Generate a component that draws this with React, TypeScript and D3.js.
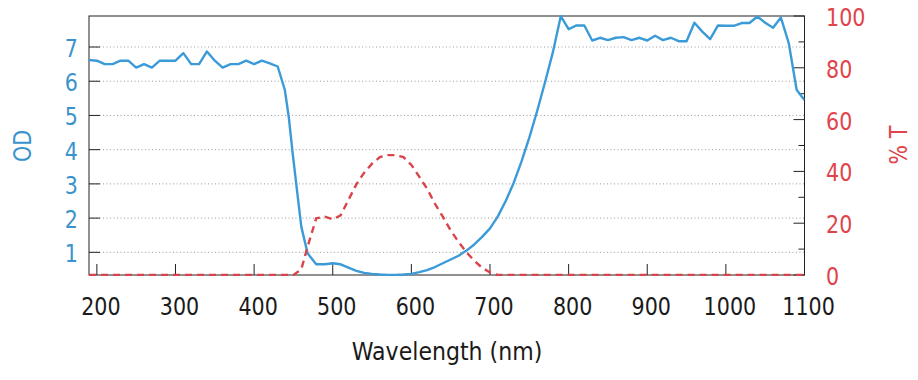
import React from "react";
import * as d3 from "d3";

const odWavelengths = [190, 200, 210, 220, 230, 240, 250, 260, 270, 280, 290, 300, 310, 320, 330, 340, 350, 360, 370, 380, 390, 400, 410, 420, 430, 439, 444, 449, 455, 460, 468, 479, 490, 500, 510, 520, 530, 540, 550, 560, 570, 580, 590, 600, 610, 620, 630, 640, 650, 660, 670, 680, 690, 700, 710, 720, 730, 740, 750, 760, 770, 780, 790, 800, 810, 820, 830, 840, 850, 860, 870, 880, 890, 900, 910, 920, 930, 940, 950, 960, 970, 980, 990, 1000, 1010, 1020, 1030, 1040, 1050, 1060, 1070, 1080, 1085, 1090, 1095, 1100];
const odValues = [6.62, 6.6, 6.5, 6.5, 6.6, 6.6, 6.4, 6.5, 6.4, 6.6, 6.6, 6.6, 6.82, 6.5, 6.5, 6.87, 6.6, 6.4, 6.5, 6.5, 6.6, 6.5, 6.6, 6.52, 6.43, 5.75, 4.97, 3.9, 2.72, 1.75, 0.97, 0.65, 0.65, 0.68, 0.65, 0.55, 0.46, 0.4, 0.37, 0.35, 0.34, 0.34, 0.35, 0.37, 0.42, 0.48, 0.57, 0.68, 0.79, 0.9, 1.05, 1.23, 1.45, 1.7, 2.05, 2.5, 3.02, 3.65, 4.35, 5.13, 5.97, 6.85, 7.9, 7.52, 7.63, 7.63, 7.19, 7.27, 7.2, 7.27, 7.29, 7.2, 7.27, 7.19, 7.33, 7.2, 7.27, 7.17, 7.17, 7.71, 7.45, 7.23, 7.63, 7.62, 7.62, 7.7, 7.7, 7.89, 7.71, 7.56, 7.86, 7.11, 6.43, 5.75, 5.6, 5.45];

const tWavelengths = [190, 300, 400, 450, 460, 468, 479, 490, 500, 510, 520, 530, 540, 550, 560, 570, 580, 590, 600, 610, 620, 630, 640, 650, 660, 670, 680, 690, 700, 710, 800, 900, 1000, 1100];
const tValues = [0, 0, 0, 0, 2.2, 10.9, 21.9, 22.5, 21.5, 23, 29, 35, 39.5, 43, 45.5, 46.3, 46.3, 45.5, 42.5, 38, 33.3, 27.5, 22.5, 17.2, 12.8, 8.8, 5.5, 2.8, 1, 0, 0, 0, 0, 0];

const xTicks = [200, 300, 400, 500, 600, 700, 800, 900, 1000, 1100];
const odTicks = [1, 2, 3, 4, 5, 6, 7];
const tTicks = [0, 20, 40, 60, 80, 100];
const tMinorTicks = [10, 30, 50, 70, 90];

const BLUE = "#3b9ad8";
const BLUE_TEXT = "#3a93cc";
const RED = "#d9434a";
const RED_TEXT = "#e0444a";
const FONT = "'DejaVu Sans', Verdana, sans-serif";
const SX = 0.86;

export default function App() {
  const left = 89, right = 804.5, top = 16, bottom = 275;
  const x = d3.scaleLinear().domain([190, 1100]).range([left, right]);
  const yOD = d3.scaleLinear().domain([0.337, 7.906]).range([bottom, top]);
  const yT = d3.scaleLinear().domain([0, 100]).range([bottom, top]);

  const odLine = d3
    .line<number>()
    .x((_, i) => x(odWavelengths[i]))
    .y((d) => yOD(d))
    .curve(d3.curveLinear)(odValues) as string;

  const tLine = d3
    .line<number>()
    .x((_, i) => x(tWavelengths[i]))
    .y((d) => yT(d))
    .curve(d3.curveLinear)(tValues) as string;

  const txt = (
    key: string,
    px: number,
    py: number,
    s: string,
    anchor: string,
    color: string,
    size: number,
    rotate = 0,
    sx = SX
  ) => (
    <text
      key={key}
      transform={`translate(${px},${py}) rotate(${rotate}) scale(${sx},1)`}
      textAnchor={anchor as any}
      fill={color}
      fontSize={size}
      fontFamily={FONT}
    >
      {s}
    </text>
  );

  return (
    <svg
      width={918}
      height={380}
      style={{ position: "absolute", left: 0, top: 0, background: "#fff" }}
    >
      <defs>
        <clipPath id="plot">
          <rect x={left} y={top - 1} width={right - left} height={bottom - top + 2} />
        </clipPath>
      </defs>
      <rect x={0} y={0} width={918} height={380} fill="#fff" />
      {odTicks.map((t) => (
        <line
          key={"g" + t}
          x1={left}
          x2={right}
          y1={yOD(t)}
          y2={yOD(t)}
          stroke="#9a9a9a"
          strokeWidth={1}
          strokeDasharray="1,2.5"
        />
      ))}
      {odTicks.map((t) => (
        <line key={"lt" + t} x1={left} x2={left + 11} y1={yOD(t)} y2={yOD(t)} stroke="#222" strokeWidth={1} />
      ))}
      {tTicks.map((t) => (
        <line key={"rt" + t} x1={right - 11} x2={right} y1={yT(t)} y2={yT(t)} stroke="#222" strokeWidth={1} />
      ))}
      {tMinorTicks.map((t) => (
        <line key={"rm" + t} x1={right - 6} x2={right} y1={yT(t)} y2={yT(t)} stroke="#222" strokeWidth={1} />
      ))}
      {xTicks.map((t) => (
        <line key={"bt" + t} x1={x(t)} x2={x(t)} y1={bottom} y2={bottom - 11} stroke="#222" strokeWidth={1} />
      ))}
      <rect x={left} y={top} width={right - left} height={bottom - top} fill="none" stroke="#222" strokeWidth={1} />
      <g clipPath="url(#plot)">
        <path d={odLine} fill="none" stroke={BLUE} strokeWidth={2.4} strokeLinejoin="round" />
        <path d={tLine} fill="none" stroke={RED} strokeWidth={2.4} strokeDasharray="7,5" />
      </g>
      {xTicks.map((t) => txt("xl" + t, x(t) + 4, 315, String(t), "middle", "#1a1a1a", 24))}
      {odTicks.map((t) => txt("yl" + t, 78, yOD(t) + 10, String(t), "end", BLUE_TEXT, 24))}
      {tTicks.map((t) => txt("tl" + t, 826, yT(t) + 10, String(t), "start", RED_TEXT, 24))}
      {txt("xt", 447, 360, "Wavelength (nm)", "middle", "#1a1a1a", 24, 0, 0.92)}
      {txt("ylt", 31, 146, "OD", "middle", BLUE_TEXT, 24, -90)}
      {txt("rlt", 907, 145, "% T", "middle", RED_TEXT, 24, -90)}
    </svg>
  );
}
